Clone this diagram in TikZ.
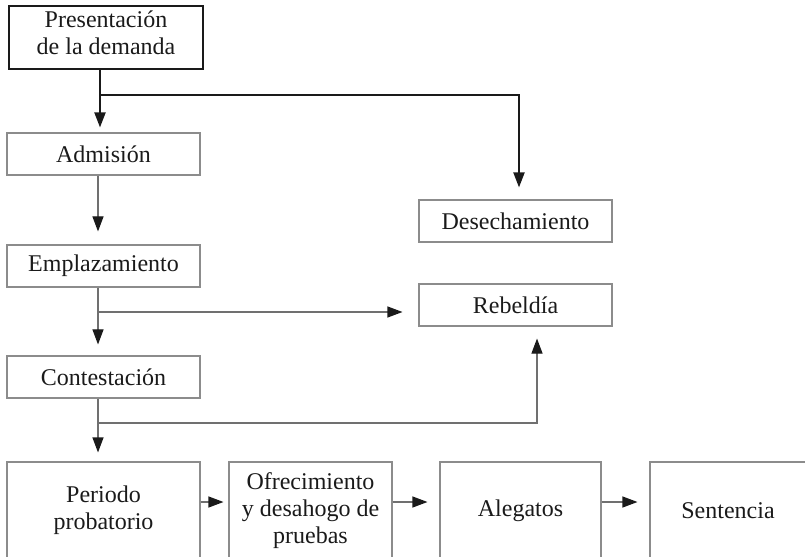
\documentclass[tikz,border=0pt]{standalone}
\usepackage{fontspec}
\setmainfont{Liberation Serif}
\usetikzlibrary{arrows.meta}
\definecolor{ink}{HTML}{1A1A1A}
\definecolor{boxgray}{HTML}{8C8C8C}
\definecolor{linegray}{HTML}{707070}
\begin{document}
\begin{tikzpicture}[x=1bp,y=-1bp,
  box/.style={draw=boxgray, line width=1.1bp, inner sep=0pt, align=center,
    text=ink, font=\fontsize{24bp}{27bp}\selectfont},
  leadbox/.style={box, draw=ink, line width=2bp},
  flow/.style={draw=linegray, line width=1.1bp,
    -{Triangle[length=15bp,width=11bp,color=ink]}},
  leadflow/.style={flow, draw=ink, line width=2bp}
]
\useasboundingbox (0,0) rectangle (805,557);
\clip (0,0) rectangle (805,557);

% left column
\node[leadbox, minimum width=193bp, minimum height=63bp] (pres) at (106,38)
  {Presentación\\de la demanda\rule[-10bp]{0pt}{0pt}};
\node[box, minimum width=193bp, minimum height=42bp] (adm)  at (103.5,154) {Admisión};
\node[box, minimum width=193bp, minimum height=42bp] (empl) at (103.5,266) {Emplazamiento};
\node[box, minimum width=193bp, minimum height=42bp] (cont) at (103.5,377) {Contestación};

% right column
\node[box, minimum width=193bp, minimum height=42bp] (desech) at (515.5,221) {Desechamiento};
\node[box, minimum width=193bp, minimum height=42bp] (rebel)  at (515.5,305) {Rebeldía};

% bottom row
\node[box, minimum width=193bp, minimum height=97bp] (per)  at (103.5,510.5) {Periodo\\probatorio};
\node[box, minimum width=163bp, minimum height=97bp] (ofr)  at (310.5,510.5) {Ofrecimiento\\y desahogo de\\pruebas};
\node[box, minimum width=161bp, minimum height=97bp] (aleg) at (520.5,510.5) {Alegatos};
\node[box, minimum width=156bp, minimum height=97bp] (sent) at (728,510.5) {Sentencia};

% branch points
\coordinate (j1) at (100,95);
\coordinate (j2) at (98,312);
\coordinate (j3) at (98,423);

% connectors
\draw[leadflow, shorten >=5bp] (pres.south -| j1) -- (adm.north -| j1);
\draw[leadflow, shorten >=12bp] (j1) -| ([xshift=3.5bp]desech.north);

\draw[flow, shorten >=13bp] (adm.south -| j2) -- (empl.north -| j2);
\draw[flow, shorten >=11bp] (empl.south -| j2) -- (cont.north -| j2);
\draw[flow, shorten >=16bp] (j2) -- (rebel.west |- j2);

\draw[flow, shorten >=9bp] (cont.south -| j3) -- (per.north -| j3);
\draw[flow, shorten >=12bp] (j3) -| ([xshift=21.5bp]rebel.south);

\draw[flow, shorten >=5bp]  ([yshift=8.5bp]per.east)  -- ([yshift=8.5bp]ofr.west);
\draw[flow, shorten >=12bp] ([yshift=8.5bp]ofr.east)  -- ([yshift=8.5bp]aleg.west);
\draw[flow, shorten >=12bp] ([yshift=8.5bp]aleg.east) -- ([yshift=8.5bp]sent.west);
\end{tikzpicture}
\end{document}
